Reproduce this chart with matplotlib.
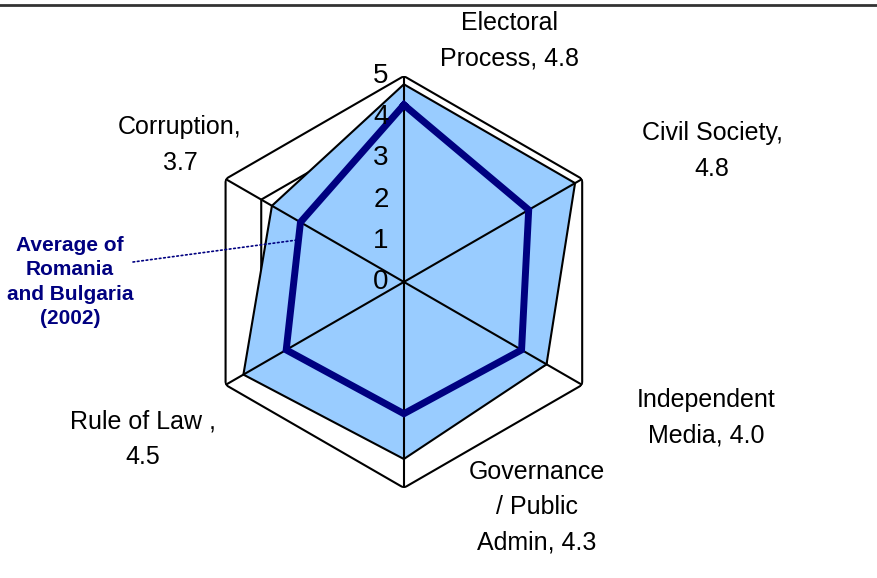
import matplotlib.pyplot as plt
import numpy as np
from matplotlib.lines import Line2D

plt.rcParams['font.family'] = ['Liberation Sans', 'DejaVu Sans']

# data
categories = ['Electoral Process', 'Civil Society', 'Independent Media',
              'Governance / Public Admin', 'Rule of Law', 'Corruption']
scores_2002 = [4.8, 4.8, 4.0, 4.3, 4.5, 3.7]
avg_ro_bg = [4.3, 3.5, 3.3, 3.2, 3.3, 2.9]
grid_levels = [1, 2, 3, 4, 5]
tick_labels = ['0', '1', '2', '3', '4', '5']
cat_labels = ['Electoral\nProcess, 4.8', 'Civil Society,\n4.8', 'Independent\nMedia, 4.0',
              'Governance\n/ Public\nAdmin, 4.3', 'Rule of Law ,\n4.5', 'Corruption,\n3.7']

fig = plt.figure(figsize=(8.78, 5.78), dpi=100)
ax = fig.add_axes([0.2255, 0.1557, 0.469, 0.713], projection='polar')
ax.set_theta_zero_location('N')
ax.set_theta_direction(-1)
ax.set_ylim(0, 5)
ax.grid(False)
ax.spines['polar'].set_visible(False)
ax.set_xticks([])
ax.set_yticks([])
ax.patch.set_alpha(0)

n = len(categories)
theta = np.linspace(0, 2 * np.pi, n, endpoint=False)
theta_c = np.append(theta, theta[0])

# hexagonal grid
for lv in grid_levels:
    ax.plot(theta_c, [lv] * (n + 1), color='black', lw=1.5, zorder=1)

# filled series
vals = np.append(scores_2002, scores_2002[0])
ax.fill(theta_c, vals, facecolor='#99CCFF', edgecolor='black', lw=1.5, zorder=2)

# spokes
for t in theta:
    ax.plot([t, t], [0, 5], color='black', lw=1.5, zorder=3)

# average line
avg = np.append(avg_ro_bg, avg_ro_bg[0])
ax.plot(theta_c, avg, color='#000080', lw=5, zorder=4, solid_joinstyle='miter')

# radial tick labels
for i, lab in enumerate(tick_labels):
    ax.annotate(lab, xy=(0, i), xytext=(-11, 0), textcoords='offset points',
                ha='right', va='center', fontsize=20, zorder=5)

# category labels
label_pos = [(510, 41), (712, 151), (706, 418), (537, 507), (143, 439), (180, 145)]
W, H = 878.0, 578.0
for lab, (px, py) in zip(cat_labels, label_pos):
    fig.text(px / W, 1 - py / H, lab, ha='center', va='center', fontsize=18,
             linespacing=1.6)

# annotation
fig.text(70 / W, 1 - 282 / H, 'Average of\nRomania\nand Bulgaria\n(2002)',
         ha='center', va='center', fontsize=15, fontweight='bold', color='#000080',
         linespacing=1.36)
ax.annotate('', xy=(np.deg2rad(291.4), 2.79), xytext=(133 / W, 1 - 262 / H),
            textcoords='figure fraction',
            arrowprops=dict(arrowstyle='-', color='#000080', lw=1.2, linestyle=':',
                            shrinkA=0, shrinkB=0))

# top rule
fig.add_artist(Line2D([0, 1], [1 - 5 / H, 1 - 5 / H], transform=fig.transFigure,
                      color='#333333', lw=2))

fig.savefig('out.png', dpi=100)
